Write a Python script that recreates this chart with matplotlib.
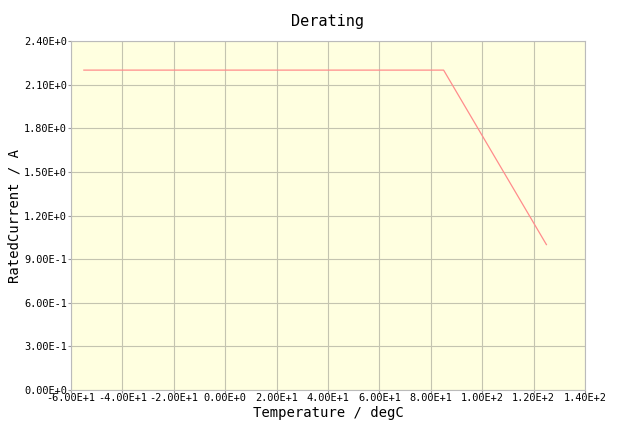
import numpy as np
import matplotlib
matplotlib.use("Agg")
import matplotlib.pyplot as plt
from matplotlib.ticker import FuncFormatter, MultipleLocator

# derating curve
temp = [-55, 85, 125]
current = [2.2, 2.2, 1.0]

plt.rcParams['font.family'] = ['DejaVu Sans Mono']


def sci(v, pos):
    if v == 0:
        return "0.00E+0"
    e = int(np.floor(np.log10(abs(v))))
    m = v / 10 ** e
    return "%.2fE%+d" % (m, e)


fig = plt.figure(figsize=(6.19, 4.23), dpi=100)
ax = fig.add_axes([0.1147, 0.078, 0.8303, 0.825])
ax.set_facecolor('#FFFFE0')
ax.plot(temp, current, color='#FF8C8C', lw=0.9)

ax.set_xlim(-60, 140)
ax.set_ylim(0, 2.4)
ax.xaxis.set_major_locator(MultipleLocator(20))
ax.yaxis.set_major_locator(MultipleLocator(0.3))
ax.xaxis.set_major_formatter(FuncFormatter(sci))
ax.yaxis.set_major_formatter(FuncFormatter(sci))
ax.grid(True, color='#c4c4b0', lw=0.8)
ax.tick_params(labelsize=7.4, length=2, pad=1, color='#999999')
ax.tick_params(axis='x', pad=0)
for s in ax.spines.values():
    s.set_color('#bbbbbb')
    s.set_linewidth(0.8)

ax.set_title("Derating", fontsize=11, pad=11)
ax.set_xlabel("Temperature / degC", fontsize=10, labelpad=2)
ax.set_ylabel("RatedCurrent / A", fontsize=10, labelpad=2)

fig.savefig("out.png", dpi=100)
